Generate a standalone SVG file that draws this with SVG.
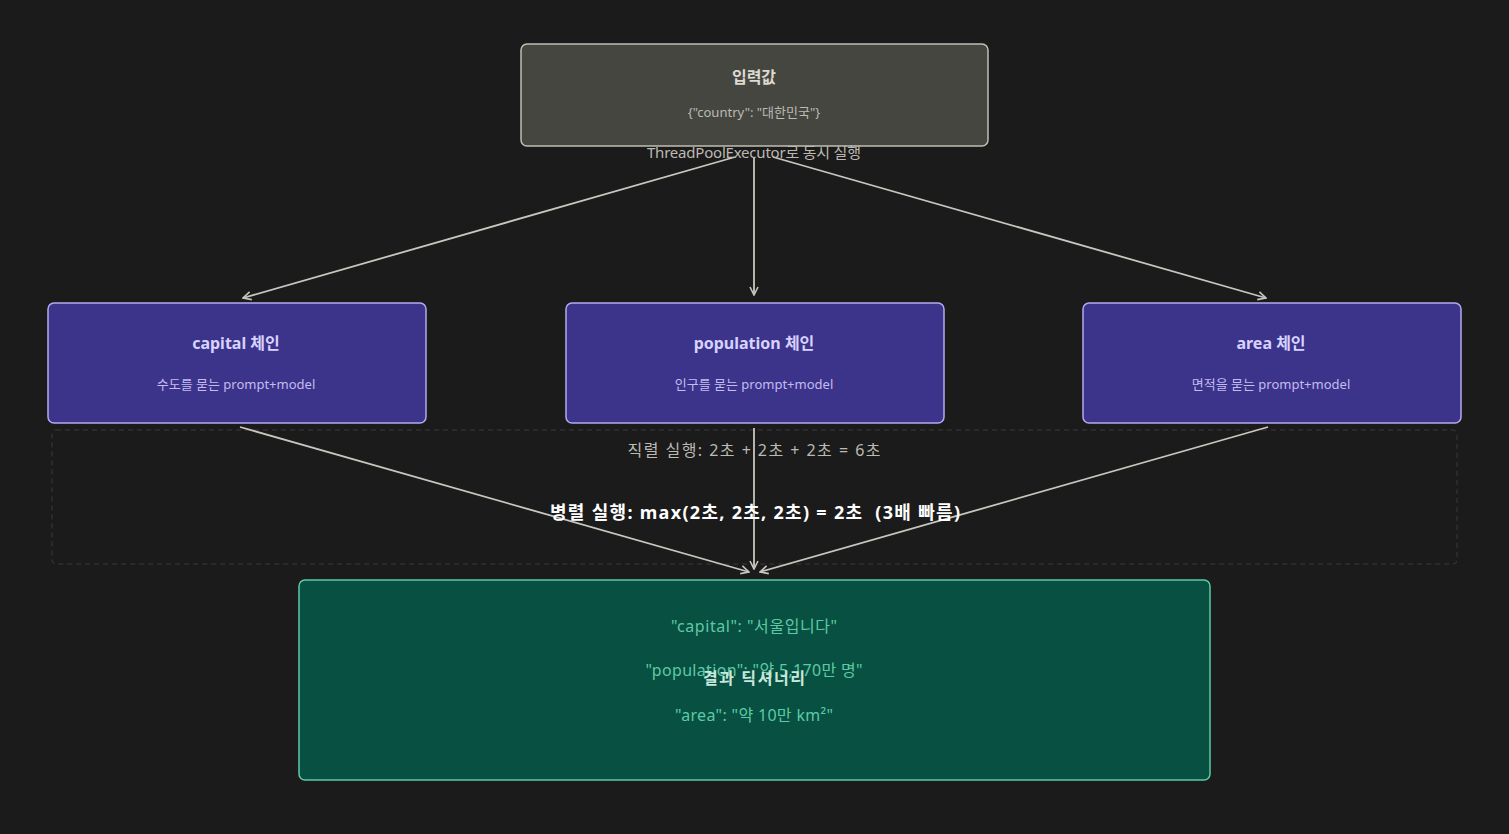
<svg xmlns="http://www.w3.org/2000/svg" width="1509" height="834" viewBox="0 0 1509 834">
<style>
text{font-family:"Noto Sans","Noto Sans CJK KR",sans-serif;text-anchor:middle}
.t{font-size:16px;font-weight:bold}
.s{font-size:13px}
.chain rect{fill:#3c348a;stroke:#b4aaf0;stroke-width:1.5}
.chain .t{fill:#d8d2ff}.chain .s{fill:#c4bcf0}
.c{stroke:#c8c6be;stroke-width:1.8;fill:none;marker-end:url(#a)}
</style>
<defs><marker id="a" viewBox="0 0 10 10" refX="9" refY="5" markerWidth="10" markerHeight="10" orient="auto-start-reverse" markerUnits="userSpaceOnUse"><path d="M1 1L9 5L1 9" fill="none" stroke="#c8c6be" stroke-width="1.6"/></marker></defs>
<rect width="1509" height="834" fill="#1b1b1b"/>
<rect x="52" y="430" width="1405" height="134" rx="4" fill="none" stroke="#3a3a3a" stroke-dasharray="5 4"/>
<g id="input"><rect x="521" y="44" width="467" height="102" rx="6" fill="#464640" stroke="#c0beb4" stroke-width="1.5"/>
<text x="754" y="83" class="t" fill="#dcdad2">입력값</text>
<text x="754" y="117" class="s" fill="#bcbab2">{"country": "대한민국"}</text></g>
<g id="capital" class="chain"><rect x="48" y="303" width="378" height="120" rx="6"/><text x="236" y="349" class="t">capital 체인</text><text x="236" y="389" class="s">수도를 묻는 prompt+model</text></g>
<g id="population" class="chain"><rect x="566" y="303" width="378" height="120" rx="6"/><text x="754" y="349" class="t">population 체인</text><text x="754" y="389" class="s">인구를 묻는 prompt+model</text></g>
<g id="area" class="chain"><rect x="1083" y="303" width="378" height="120" rx="6"/><text x="1271" y="349" class="t">area 체인</text><text x="1271" y="389" class="s">면적을 묻는 prompt+model</text></g>
<g id="edges">
<path class="c" d="M735 157L243 298"/><path class="c" d="M754 157V295"/><path class="c" d="M773 157L1266 298"/>
<path class="c" d="M240 427L749 572"/><path class="c" d="M754 428V569"/><path class="c" d="M1268 427L760 572"/>
</g>
<text x="754" y="158" font-size="15" fill="#bcbab2" textLength="214" lengthAdjust="spacing">ThreadPoolExecutor로 동시 실행</text>
<g id="result"><rect x="299" y="580" width="911" height="200" rx="6" fill="#085042" stroke="#5dcaa5" stroke-width="1.5"/>
<text x="754" y="632" font-size="16" fill="#5dcaa5" textLength="166" lengthAdjust="spacing">"capital": "서울입니다"</text>
<text x="754" y="676" font-size="16" fill="#5dcaa5" textLength="217" lengthAdjust="spacing">"population": "약 5,170만 명"</text>
<text x="754" y="721" font-size="16" fill="#5dcaa5" textLength="158" lengthAdjust="spacing">"area": "약 10만 km²"</text>
<text x="754" y="684" class="t" fill="#c8e8dc" textLength="102" lengthAdjust="spacing">결과 딕셔너리</text></g>
<text x="754" y="456" font-size="16" fill="#bcbab2" textLength="253" lengthAdjust="spacing">직렬 실행: 2초 + 2초 + 2초 = 6초</text>
<text x="755" y="519" font-size="18" font-weight="bold" fill="#ffffff" textLength="410" lengthAdjust="spacing" xml:space="preserve">병렬 실행: max(2초, 2초, 2초) = 2초  (3배 빠름)</text>
</svg>
